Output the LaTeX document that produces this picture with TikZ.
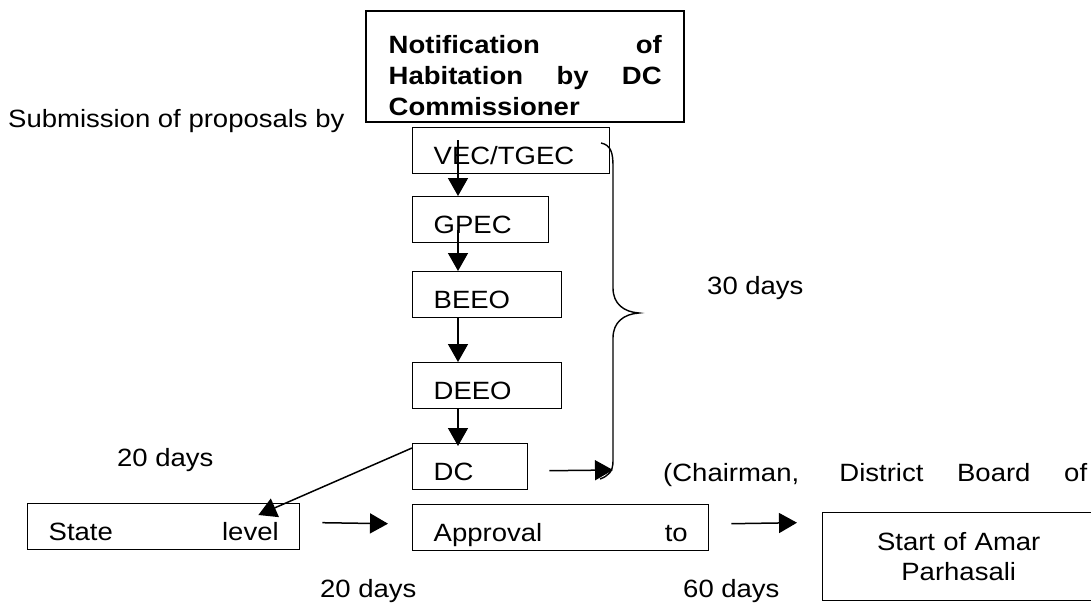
\documentclass[tikz,border=0pt]{standalone}
\usepackage{fontspec}
\setmainfont{Liberation Sans}[FakeStretch=1.1]
\usetikzlibrary{arrows.meta}
\usetikzlibrary{calc}

\begin{document}
\begin{tikzpicture}[x=1pt, y=-1pt, font=\fontsize{25}{31}\selectfont,
    stage/.style={draw, line width=1.4pt, anchor=north west, inner xsep=21pt, inner ysep=6pt, text height=31pt, text depth=3pt, align=left},
    flow/.style={line width=1.5pt, -{Triangle[width=20pt,length=18pt]}},
    note/.style={anchor=base west, inner sep=0pt}]
        % Fix the page to the size of the reference
        \clip (0,0) rectangle (1091,602);

        % Heading box
        \node[draw, line width=2.4pt, anchor=north west, text width=273pt, inner xsep=22.5pt, inner ysep=4pt, text height=38pt, text depth=65pt, align=left, font=\bfseries\fontsize{25}{31}\selectfont] (notif) at (365,10) {Notification\hfill of\\Habitation\hfill by\hfill DC\\Commissioner};

        % The chain of committees
        \node[stage, text width=155pt] (vec) at (412,127) {VEC/TGEC};
        \node[stage, text width=94pt] (gpec) at (412,196) {GPEC};
        \node[stage, text width=107pt] (beeo) at (412,271) {BEEO};
        \node[stage, text width=107pt] (deeo) at (412,362) {DEEO};
        \node[stage, text width=73pt] (dc) at (412,443) {DC};
        \node[stage, text width=254pt] (appr) at (412,504) {Approval\hfill to};
        \node[stage, text width=230pt] (state) at (27,503) {State\hfill level};
        \node[draw, line width=1.4pt, anchor=north west, text width=240pt, inner xsep=16pt, minimum height=88pt, align=center, font=\fontsize{25}{30}\selectfont] (start) at (822,512) {Start of Amar\\Parhasali};

        % Loose texts
        \node[note] (sub) at (8,127) {Submission of proposals by};
        \node[note] (d30) at (707,294) {30 days};
        \node[note] (d20a) at (117,466) {20 days};
        \node[note] (chair) at (663,481) {\makebox[424pt][s]{(Chairman, District Board of}};
        \node[note] (d20b) at (320,597) {20 days};
        \node[note] (d60) at (683,597) {60 days};

        % Brace over the committees
        \coordinate (btop) at (601,143);
        \coordinate (bbot) at (613,470);
        \draw[line width=1.4pt] (btop) .. controls (611,145) and (613,153) .. (613,166) -- (613,288) .. controls (613,304) and (624,312) .. (639,313) .. controls (624,314) and (613,322) .. (613,338) -- (613,461) .. controls (613,472) and (608,476) .. (600,479);

        \draw[flow] ($(vec.north west)+(46,13)$) -- ($(gpec.north west)+(46,0)$);
        \draw[flow] ($(gpec.north west)+(46,34)$) -- ($(beeo.north west)+(46,0)$);
        \draw[flow] ($(beeo.south west)+(46,0)$) -- ($(deeo.north west)+(46,0)$);
        \draw[flow] ($(deeo.south west)+(46,0)$) -- ($(dc.north west)+(46,3)$);
        \draw[flow] ($(dc.east)+(21,4)$) -- (bbot);
        \draw[flow] ($(dc.north west)+(0,5)$) -- ($(state.north east)+(-42,12)$);
        \draw[flow] ($(state.east)+(22,-4)$) -- ($(appr.west)+(-24,-4)$);
        \draw[flow] ($(appr.east)+(22,-4)$) -- ($(start.west)+(-25,-34)$);
      \end{tikzpicture}
\end{document}
